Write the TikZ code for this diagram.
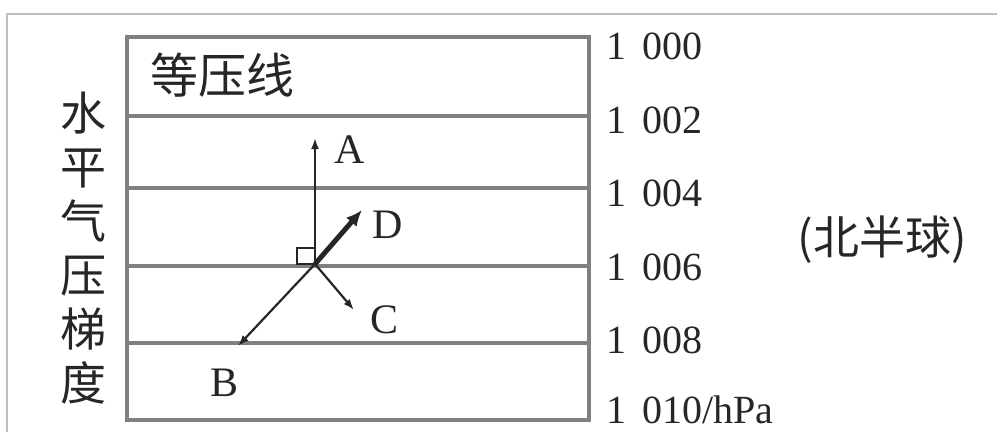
\documentclass[tikz,border=0pt]{standalone}
\usepackage{fontspec}
\setmainfont{Liberation Serif}
\newfontfamily\cjk{Noto Sans CJK SC}
\usetikzlibrary{arrows.meta,calc}
\definecolor{LineClr}{gray}{0.5}
\definecolor{VecClr}{gray}{0.15}

\begin{document}
\begin{tikzpicture}[x=1pt,y=-1pt,
  isobar/.style={line width=4.5pt,color=LineClr},
  vec/.style={line width=2.2pt,color=VecClr,-{Latex[length=11pt,width=8pt]}},
  pres/.style={anchor=west,inner sep=0pt,font=\fontsize{40}{40}\selectfont,text=black!85},
  letter/.style={inner sep=0pt,font=\fontsize{42}{42}\selectfont,text=black!85}]
\useasboundingbox (0,0) rectangle (997,432);

% outer frame
\draw[line width=1.5pt,color=black!25] (7,432) -- (7,14) -- (997,14);

% box with isobars
\draw[isobar] (127,37) rectangle (589,420);
\draw[isobar] (127,116) -- (589,116);
\draw[isobar] (127,188) -- (589,188);
\draw[isobar] (127,266) -- (589,266);
\draw[isobar] (127,343) -- (589,343);

% pressure values
\node[pres] (p1000) at (606,46) {1\hspace{0.4em}000};
\node[pres] (p1002) at (606,120) {1\hspace{0.4em}002};
\node[pres] (p1004) at (606,193) {1\hspace{0.4em}004};
\node[pres] (p1006) at (606,267) {1\hspace{0.4em}006};
\node[pres] (p1008) at (606,340) {1\hspace{0.4em}008};
\node[pres] (p1010) at (606,410) {1\hspace{0.4em}010/hPa};

% texts
\node[inner sep=0pt,font=\cjk\fontsize{48}{48}\selectfont,text=black!85] (iso) at (222,75) {等压线};
\node[inner sep=0pt,align=center,font=\cjk\fontsize{46}{54}\selectfont,text=black!85] (grad) at (83,248) {水\\平\\气\\压\\梯\\度};
\node[inner sep=0pt,font=\cjk\fontsize{46}{46}\selectfont,text=black!85] (nh) at (882,240) {(北半球)};

% vectors
\coordinate (O) at (315,264);
\coordinate (A) at (315,138);
\coordinate (B) at (238,346);
\coordinate (C) at (354,310);
\coordinate (D) at (362,210);

\draw[line width=1.5pt,color=VecClr] (297,248) rectangle (315,264);
\draw[vec] (O) -- (A);
\draw[vec] (O) -- (B);
\draw[vec] (O) -- (C);
\draw[line width=5pt,color=VecClr,-{Latex[length=16pt,width=14pt]}] (O) -- (D);

\node[letter] (lA) at (350,150) {A};
\node[letter] (lB) at (225,383) {B};
\node[letter] (lC) at (385,320) {C};
\node[letter] (lD) at (388,225) {D};

\end{tikzpicture}
\end{document}
